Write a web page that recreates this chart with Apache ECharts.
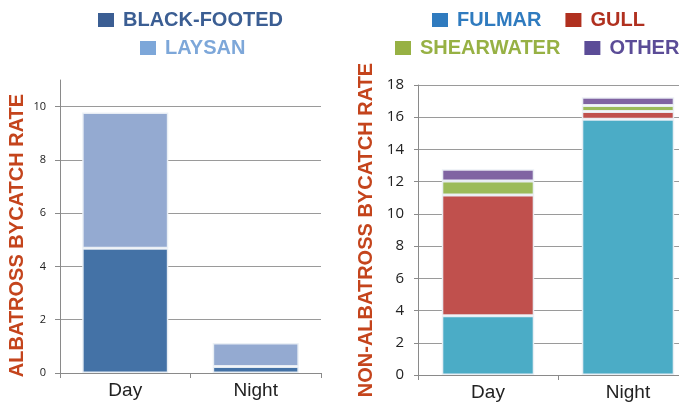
<!DOCTYPE html>
<html>
<head>
<meta charset="utf-8">
<title>Bycatch rate</title>
<script src="https://cdn.jsdelivr.net/npm/echarts@6/dist/echarts.min.js"></script>
<style>
  html, body { margin: 0; padding: 0; background: #fff; }
  #chart { width: 679px; height: 403px; }
</style>
</head>
<body>
<div id="chart"></div>
<script>
// data
const categories = ['Day', 'Night']

const blackFooted = [4.68, 0.24]
const laysan = [5.1, 0.89]

const fulmar = [3.68, 15.87]
const gull = [7.49, 0.48]
const shearwater = [0.87, 0.37]
const other = [0.73, 0.52]

const titleColor = '#C4441C'
const labelFont = 'Liberation Sans, Arial, sans-serif'

const chart = echarts.init(document.getElementById('chart'))

// legend row helper, icons use a darker tone than the bars
function legendRow (left, top, items) {
  return {
    left: left,
    top: top,
    width: 400,
    padding: 0,
    itemGap: 24,
    itemWidth: 16,
    itemHeight: 14,
    icon: 'rect',
    selectedMode: false,
    data: items.map(function (it) {
      return {
        name: it[0],
        itemStyle: { color: it[1], borderWidth: 0, shadowBlur: 0 },
        textStyle: { color: it[1] }
      }
    }),
    textStyle: {
      fontFamily: labelFont,
      fontWeight: 'bold',
      fontSize: 20,
      lineHeight: 20,
      padding: [0, 0, 0, 4]
    }
  }
}

function barStyle (color) {
  return {
    color: color,
    borderColor: 'rgba(235,240,246,0.95)',
    borderWidth: 1.5
  }
}

chart.setOption({
  animation: false,
  legend: [
    legendRow(98, 10, [['BLACK-FOOTED', '#3B5E93']]),
    legendRow(140, 38, [['LAYSAN', '#7DA7D9']]),
    legendRow(432, 10, [['FULMAR', '#2F7BBF'], ['GULL', '#B0301F']]),
    legendRow(395, 38, [['SHEARWATER', '#97B144'], ['OTHER', '#5B4C97']])
  ],
  grid: [
    { left: 60, width: 261, top: 80, bottom: 30, outerBoundsMode: 'none' },
    // right plot runs past the edge of the picture
    { left: 418, width: 280, top: 85, bottom: 28, outerBoundsMode: 'none' }
  ],
  xAxis: [0, 1].map(function (i) {
    return {
      type: 'category',
      gridIndex: i,
      data: categories,
      axisLine: { lineStyle: { color: '#8a8a8a' } },
      axisTick: { show: true, length: 5, lineStyle: { color: '#8a8a8a' } },
      axisLabel: {
        margin: 8,
        color: '#222',
        fontFamily: labelFont,
        fontSize: 19
      }
    }
  }),
  yAxis: [
    {
      type: 'value',
      gridIndex: 0,
      min: 0,
      max: 11,
      interval: 2,
      name: 'ALBATROSS BYCATCH RATE',
      nameLocation: 'middle',
      nameGap: 33,
      nameRotate: 90,
      nameTextStyle: {
        color: titleColor,
        fontFamily: labelFont,
        fontWeight: 'bold',
        fontSize: 20,
        padding: [0, 18, 0, 0]
      },
      axisLine: { show: true, lineStyle: { color: '#8a8a8a' } },
      axisTick: { show: true, length: 5, lineStyle: { color: '#8a8a8a' } },
      axisLabel: {
        margin: 14,
        color: '#222',
        fontFamily: 'Open Sans, sans-serif',
        fontSize: 11,
        showMaxLabel: false
      },
      splitLine: { showMaxLine: false, lineStyle: { color: '#9a9a9a' } }
    },
    {
      type: 'value',
      gridIndex: 1,
      min: 0,
      max: 18,
      interval: 2,
      name: 'NON-ALBATROSS BYCATCH RATE',
      nameLocation: 'middle',
      nameGap: 42,
      nameRotate: 90,
      nameTextStyle: {
        color: titleColor,
        fontFamily: labelFont,
        fontWeight: 'bold',
        fontSize: 20
      },
      axisLine: { show: true, lineStyle: { color: '#8a8a8a' } },
      axisTick: { show: true, length: 4, lineStyle: { color: '#8a8a8a' } },
      axisLabel: {
        margin: 14,
        color: '#222',
        fontFamily: 'Open Sans, sans-serif',
        fontSize: 15
      },
      splitLine: { lineStyle: { color: '#9a9a9a' } }
    }
  ],
  series: [
    { name: 'BLACK-FOOTED', type: 'bar', stack: 'alb', xAxisIndex: 0, yAxisIndex: 0, barWidth: '66%', itemStyle: barStyle('#4472A6'), data: blackFooted },
    { name: 'LAYSAN', type: 'bar', stack: 'alb', xAxisIndex: 0, yAxisIndex: 0, barWidth: '66%', itemStyle: barStyle('#94AAD1'), data: laysan },
    { name: 'FULMAR', type: 'bar', stack: 'non', xAxisIndex: 1, yAxisIndex: 1, barWidth: '66%', itemStyle: barStyle('#4BACC6'), data: fulmar },
    { name: 'GULL', type: 'bar', stack: 'non', xAxisIndex: 1, yAxisIndex: 1, barWidth: '66%', itemStyle: barStyle('#C0504D'), data: gull },
    { name: 'SHEARWATER', type: 'bar', stack: 'non', xAxisIndex: 1, yAxisIndex: 1, barWidth: '66%', itemStyle: barStyle('#9BBB59'), data: shearwater },
    { name: 'OTHER', type: 'bar', stack: 'non', xAxisIndex: 1, yAxisIndex: 1, barWidth: '66%', itemStyle: barStyle('#8064A2'), data: other }
  ]
})
</script>
</body>
</html>
